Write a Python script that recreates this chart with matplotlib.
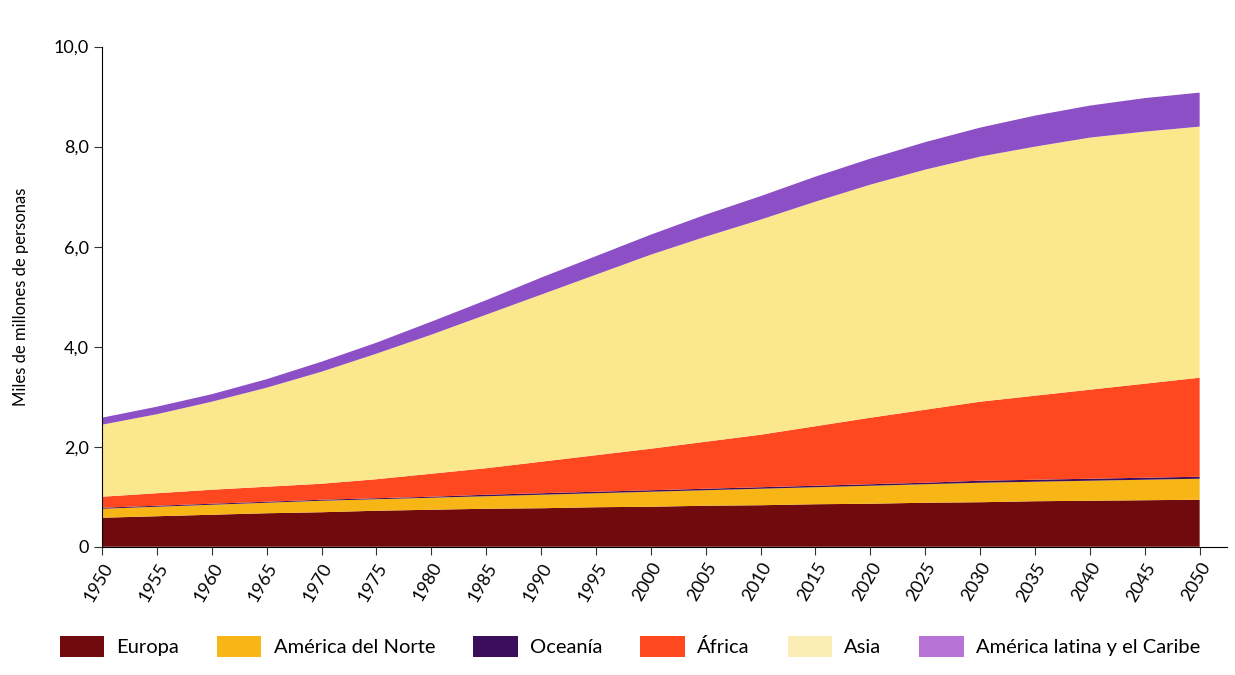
import matplotlib.pyplot as plt
import numpy as np
from matplotlib.patches import Patch

plt.rcParams['font.family'] = ['Lato', 'DejaVu Sans']

years = np.arange(1950, 2051, 5)

# thousands of millions of people, per region (stack order bottom -> top)
europa = [0.58, 0.61, 0.64, 0.67, 0.69, 0.72, 0.74, 0.76, 0.77, 0.79, 0.80,
          0.82, 0.83, 0.85, 0.86, 0.88, 0.89, 0.91, 0.92, 0.93, 0.94]
america_norte = [0.18, 0.19, 0.20, 0.21, 0.23, 0.23, 0.24, 0.25, 0.27, 0.28, 0.30,
                 0.31, 0.33, 0.34, 0.36, 0.37, 0.39, 0.39, 0.40, 0.41, 0.42]
oceania = [0.02, 0.02, 0.02, 0.02, 0.02, 0.02, 0.02, 0.03, 0.03, 0.03, 0.03,
           0.03, 0.03, 0.03, 0.03, 0.03, 0.04, 0.04, 0.04, 0.04, 0.04]
africa = [0.22, 0.25, 0.28, 0.30, 0.32, 0.38, 0.46, 0.53, 0.63, 0.73, 0.83,
          0.94, 1.05, 1.19, 1.33, 1.46, 1.58, 1.68, 1.78, 1.88, 1.98]
asia = [1.44, 1.58, 1.76, 1.98, 2.24, 2.51, 2.78, 3.07, 3.34, 3.61, 3.88,
        4.10, 4.30, 4.49, 4.66, 4.80, 4.90, 4.98, 5.04, 5.04, 5.02]
america_latina = [0.14, 0.15, 0.15, 0.17, 0.20, 0.22, 0.26, 0.29, 0.34, 0.37, 0.40,
                  0.44, 0.47, 0.50, 0.52, 0.55, 0.58, 0.62, 0.64, 0.67, 0.68]

labels = ['Europa', 'América del Norte', 'Oceanía', 'África', 'Asia',
          'América latina y el Caribe']
colors = ['#700a0c', '#f8b516', '#3b0e5c', '#ff4820', '#fbe78c', '#8c4fc6']
legend_colors = ['#700a0c', '#f8b516', '#3b0e5c', '#ff4820', '#fbeeb5', '#b873d6']

fig = plt.figure(figsize=(12.35, 6.75), dpi=100)
ax = fig.add_axes([0.0826, 0.19, 0.911, 0.741])

ax.stackplot(years, europa, america_norte, oceania, africa, asia, america_latina,
             colors=colors, linewidth=0)

ax.set_xlim(1950, 2052.5)
ax.set_ylim(0, 10)
ax.set_xticks(np.arange(1950, 2051, 5))
ax.set_xticklabels([str(y) for y in range(1950, 2051, 5)], rotation=60,
                   ha='right', rotation_mode='anchor', fontsize=13)
ax.set_yticks([0, 2, 4, 6, 8, 10])
ax.set_yticklabels(['0', '2,0', '4,0', '6,0', '8,0', '10,0'], fontsize=13)
ax.set_ylabel('Miles de millones de personas', fontsize=12, labelpad=18)
ax.spines['top'].set_visible(False)
ax.spines['right'].set_visible(False)
ax.tick_params(direction='out', length=6, color='#333333')

handles = [Patch(facecolor=c, label=l) for c, l in zip(legend_colors, labels)]
fig.legend(handles=handles, loc='lower center', bbox_to_anchor=(0.51, 0.0),
           ncol=6, frameon=False, fontsize=14.5, handlelength=2.2,
           handleheight=1.2, columnspacing=1.9, handletextpad=0.6)

fig.savefig('out.png', dpi=100)
